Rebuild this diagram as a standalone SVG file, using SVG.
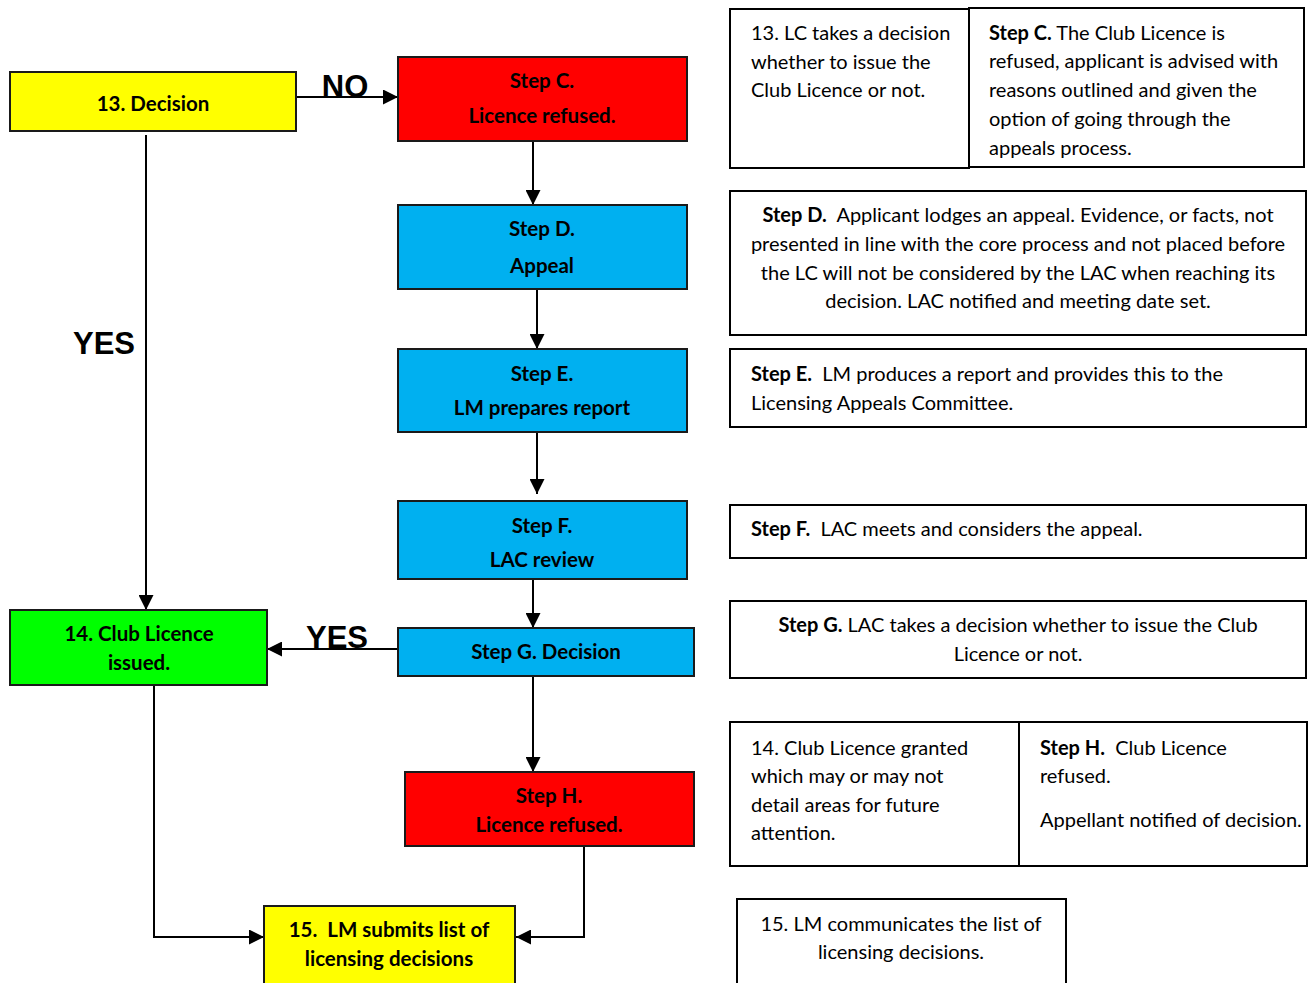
<svg xmlns="http://www.w3.org/2000/svg" width="1311" height="983" viewBox="0 0 1311 983">
<style>
.box{stroke:#1a1a1a;stroke-width:2}
.yel{fill:#FFFF00}.red{fill:#FF0000}.blu{fill:#00B0F0}.grn{fill:#00FF00}
.note{fill:#fff;stroke:#000;stroke-width:2}
.t{font-family:Lato,"Open Sans",sans-serif;font-size:20px;fill:#000;dominant-baseline:central;white-space:pre}
.b{font-weight:bold}
.bb{font-weight:bold;font-size:20.5px}
.c{text-anchor:middle}
.lbl{font-family:"Liberation Sans",Arial,sans-serif;font-weight:bold;font-size:31px;fill:#000;dominant-baseline:central;text-anchor:middle}
.ln{fill:none;stroke:#000;stroke-width:2}
</style>
<defs>
<marker id="ah" viewBox="0 0 14 14" refX="14" refY="7" markerWidth="15" markerHeight="15" markerUnits="userSpaceOnUse" orient="auto">
<path d="M0,0 L14,7 L0,14 Z" fill="#000"/>
</marker>
</defs>
<g id="connectors">
<line class="ln" x1="296" y1="97" x2="398" y2="97" marker-end="url(#ah)"/>
<line class="ln" x1="533" y1="141" x2="533" y2="205" marker-end="url(#ah)"/>
<line class="ln" x1="537" y1="289" x2="537" y2="349" marker-end="url(#ah)"/>
<line class="ln" x1="537" y1="432" x2="537" y2="494" marker-end="url(#ah)"/>
<line class="ln" x1="533" y1="579" x2="533" y2="628" marker-end="url(#ah)"/>
<line class="ln" x1="398" y1="649" x2="267" y2="649" marker-end="url(#ah)"/>
<line class="ln" x1="146" y1="135" x2="146" y2="610" marker-end="url(#ah)"/>
<line class="ln" x1="533" y1="676" x2="533" y2="772" marker-end="url(#ah)"/>
<polyline class="ln" points="154,685 154,937 264,937" marker-end="url(#ah)"/>
<polyline class="ln" points="584,846 584,937 516,937" marker-end="url(#ah)"/>
<text class="lbl" x="345" y="86">NO</text>
<text class="lbl" x="104" y="343">YES</text>
<text class="lbl" x="337" y="637">YES</text>
</g>
<g id="n13">
<rect class="box yel" x="10" y="72" width="286" height="59"/>
<text class="t bb c" x="153" y="103">13. Decision</text>
</g>
<g id="stepC">
<rect class="box red" x="398" y="57" width="289" height="84"/>
<text class="t bb c" x="542" y="80">Step C.</text>
<text class="t bb c" x="542" y="115">Licence refused.</text>
</g>
<g id="stepD">
<rect class="box blu" x="398" y="205" width="289" height="84"/>
<text class="t bb c" x="542" y="228">Step D.</text>
<text class="t bb c" x="542" y="265">Appeal</text>
</g>
<g id="stepE">
<rect class="box blu" x="398" y="349" width="289" height="83"/>
<text class="t bb c" x="542" y="373">Step E.</text>
<text class="t bb c" x="542" y="407">LM prepares report</text>
</g>
<g id="stepF">
<rect class="box blu" x="398" y="501" width="289" height="78"/>
<text class="t bb c" x="542" y="525">Step F.</text>
<text class="t bb c" x="542" y="559">LAC review</text>
</g>
<g id="stepG">
<rect class="box blu" x="398" y="628" width="296" height="48"/>
<text class="t bb c" x="546" y="651">Step G. Decision</text>
</g>
<g id="n14">
<rect class="box grn" x="10" y="610" width="257" height="75"/>
<text class="t bb c" x="139" y="633">14. Club Licence</text>
<text class="t bb c" x="139" y="662">issued.</text>
</g>
<g id="stepH">
<rect class="box red" x="405" y="772" width="289" height="74"/>
<text class="t bb c" x="549" y="795">Step H.</text>
<text class="t bb c" x="549" y="824">Licence refused.</text>
</g>
<g id="n15">
<rect class="box yel" x="264" y="906" width="251" height="80"/>
<text class="t bb c" x="389" y="929">15.  LM submits list of</text>
<text class="t bb c" x="389" y="958">licensing decisions</text>
</g>
<g id="note13">
<rect class="note" x="730" y="9" width="239" height="159"/>
<text class="t" x="751" y="32">13. LC takes a decision</text>
<text class="t" x="751" y="61">whether to issue the</text>
<text class="t" x="751" y="89">Club Licence or not.</text>
</g>
<g id="noteC">
<rect class="note" x="969" y="8" width="335" height="159"/>
<text class="t" x="989" y="32"><tspan class="b">Step C.</tspan> The Club Licence is</text>
<text class="t" x="989" y="60">refused, applicant is advised with</text>
<text class="t" x="989" y="89">reasons outlined and given the</text>
<text class="t" x="989" y="118">option of going through the</text>
<text class="t" x="989" y="147">appeals process.</text>
</g>
<g id="noteD">
<rect class="note" x="730" y="191" width="576" height="144"/>
<text class="t c" x="1018" y="214"><tspan class="b">Step D.</tspan>  Applicant lodges an appeal. Evidence, or facts, not</text>
<text class="t c" x="1018" y="243">presented in line with the core process and not placed before</text>
<text class="t c" x="1018" y="272">the LC will not be considered by the LAC when reaching its</text>
<text class="t c" x="1018" y="300">decision. LAC notified and meeting date set.</text>
</g>
<g id="noteE">
<rect class="note" x="730" y="349" width="576" height="78"/>
<text class="t" x="751" y="373"><tspan class="b">Step E.</tspan>  LM produces a report and provides this to the</text>
<text class="t" x="751" y="402">Licensing Appeals Committee.</text>
</g>
<g id="noteF">
<rect class="note" x="730" y="505" width="576" height="53"/>
<text class="t" x="751" y="528"><tspan class="b">Step F.</tspan>  LAC meets and considers the appeal.</text>
</g>
<g id="noteG">
<rect class="note" x="730" y="601" width="576" height="77"/>
<text class="t c" x="1018" y="624"><tspan class="b">Step G.</tspan> LAC takes a decision whether to issue the Club</text>
<text class="t c" x="1018" y="653">Licence or not.</text>
</g>
<g id="note14">
<rect class="note" x="730" y="722" width="289" height="144"/>
<text class="t" x="751" y="747">14. Club Licence granted</text>
<text class="t" x="751" y="775">which may or may not</text>
<text class="t" x="751" y="804">detail areas for future</text>
<text class="t" x="751" y="832">attention.</text>
</g>
<g id="noteH">
<rect class="note" x="1019" y="722" width="288" height="144"/>
<text class="t" x="1040" y="747"><tspan class="b">Step H.</tspan>  Club Licence</text>
<text class="t" x="1040" y="775">refused.</text>
<text class="t" x="1040" y="819">Appellant notified of decision.</text>
</g>
<g id="note15">
<rect class="note" x="737" y="899" width="329" height="90"/>
<text class="t c" x="901" y="923">15. LM communicates the list of</text>
<text class="t c" x="901" y="951">licensing decisions.</text>
</g>
</svg>
